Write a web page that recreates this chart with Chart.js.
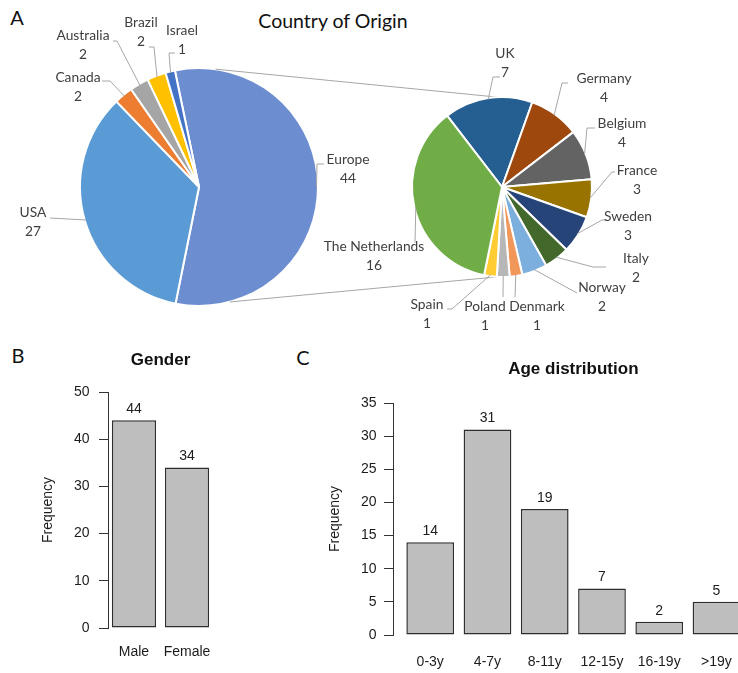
<!DOCTYPE html>
<html>
<head>
<meta charset="utf-8">
<script src="https://cdn.jsdelivr.net/npm/chart.js@4.4.1/dist/chart.umd.min.js"></script>
<style>
  html, body { margin: 0; padding: 0; background: #fff; }
  body { width: 738px; height: 673px; overflow: hidden; position: relative; }
  canvas { position: absolute; }
  .t { position: absolute; transform: translate(-50%, -50%); white-space: nowrap;
       font-family: Lato, "Open Sans", sans-serif; color: #111; line-height: 1; }
</style>
</head>
<body>
<div class="t" style="left:17px;top:17px;font-size:20px">A</div>
<div class="t" style="left:333px;top:21px;font-size:19.5px">Country of Origin</div>
<div class="t" style="left:18px;top:355px;font-size:20px">B</div>
<div class="t" style="left:303px;top:357px;font-size:20px">C</div>

<canvas id="pieMain" width="738" height="340" style="left:0;top:0"></canvas>
<canvas id="pieEurope" width="738" height="340" style="left:0;top:0"></canvas>
<canvas id="gender" width="240" height="343" style="left:0;top:330px"></canvas>
<canvas id="age" width="480" height="343" style="left:280px;top:330px"></canvas>

<script>
// ---- data ----
const originLabels = ['Europe', 'USA', 'Canada', 'Australia', 'Brazil', 'Israel'];
const originCounts = [44, 27, 2, 2, 2, 1];
const originColors = ['#6c8ed0', '#5b9bd5', '#ed7d31', '#a5a5a5', '#ffc000', '#4472c4'];

const europeLabels = ['UK', 'Germany', 'Belgium', 'France', 'Sweden', 'Italy',
                      'Norway', 'Denmark', 'Poland', 'Spain', 'The Netherlands'];
const europeCounts = [7, 4, 4, 3, 3, 2, 2, 1, 1, 1, 16];
const europeColors = ['#255e91', '#9e480e', '#636363', '#997300', '#264478', '#43682b',
                      '#7cafdd', '#f1975a', '#b7b7b7', '#ffcd33', '#70ad47'];

const genderLabels = ['Male', 'Female'];
const genderCounts = [44, 34];

const ageLabels = ['0-3y', '4-7y', '8-11y', '12-15y', '16-19y', '>19y'];
const ageCounts = [14, 31, 19, 7, 2, 5];

// ---- label placement for the pie callouts (offsets from each pie centre) ----
const originLabelLayout = [
  { text: [149, -27],   path: [[118, -23], [125, -23]] },
  { text: [-166, 26],   path: [[-149, 31]] },
  { text: [-121, -109], path: [[-89, -106], [-97, -106]] },
  { text: [-116, -151], path: [[-82, -146], [-86, -146]] },
  { text: [-58, -164],  path: [[-45, -140], [-50, -140]] },
  { text: [-17, -156],  path: [[-30, -134], [-24, -134]] }
];
const europeLabelLayout = [
  { text: [3, -133],   path: [[-9, -110], [-2, -110]] },
  { text: [102, -108], path: [[60, -104], [66, -104]] },
  { text: [120, -63],  path: [[85, -59], [93, -59]] },
  { text: [135, -16],  path: [[110, -15], [113, -15]] },
  { text: [126, 30],   path: [[100, 33], [104, 33]] },
  { text: [134, 72],   path: [[91, 80], [104, 80]] },
  { text: [100, 101],  path: [[75, 106]] },
  { text: [35, 120],   path: [[13, 110]] },
  { text: [-17, 120],  path: [[1, 110]] },
  { text: [-75, 118],  path: [[-50, 122], [-55, 122]] },
  { text: [-128, 60],  path: [[-87, 56]] }
];

// callout labels with leader lines
const pieLabels = {
  id: 'pieLabels',
  afterDatasetsDraw(chart, args, opts) {
    const ctx = chart.ctx;
    const arcs = chart.getDatasetMeta(0).data;
    const names = chart.data.labels;
    const vals = chart.data.datasets[0].data;
    ctx.save();
    arcs.forEach((arc, i) => {
      const { x, y, startAngle, endAngle, outerRadius } =
        arc.getProps(['x', 'y', 'startAngle', 'endAngle', 'outerRadius'], true);
      const mid = (startAngle + endAngle) / 2;
      const lay = opts.layout[i];
      ctx.beginPath();
      ctx.moveTo(x + Math.cos(mid) * (outerRadius - 1.5), y + Math.sin(mid) * (outerRadius - 1.5));
      lay.path.forEach(p => ctx.lineTo(x + p[0], y + p[1]));
      ctx.strokeStyle = '#a6a6a6';
      ctx.lineWidth = 1;
      ctx.stroke();
      ctx.fillStyle = '#404040';
      ctx.font = '13.8px Lato, "Open Sans", sans-serif';
      ctx.textAlign = 'center';
      ctx.textBaseline = 'middle';
      ctx.fillText(names[i], x + lay.text[0], y + lay.text[1]);
      ctx.fillText(String(vals[i]), x + lay.text[0], y + lay.text[1] + opts.lineGap);
    });
    ctx.restore();
  }
};

const pieCommon = (labels, counts, colors, radius, rotation, padding, layout, gap) => ({
  type: 'pie',
  data: { labels, datasets: [{ data: counts, backgroundColor: colors,
                               borderColor: '#ffffff', borderWidth: 2 }] },
  options: {
    responsive: false, animation: false, rotation, radius,
    layout: { padding },
    plugins: { legend: { display: false }, tooltip: { enabled: false },
               pieLabels: { layout, lineGap: gap } }
  },
  plugins: [pieLabels]
});

const mainPie = new Chart(document.getElementById('pieMain'),
  pieCommon(originLabels, originCounts, originColors, 119, -11.7,
            { left: 80, right: 420, top: 68, bottom: 34 }, originLabelLayout, 18.5));

// lines joining the Europe slice to the breakdown pie
const connectorAngles = { from: [8, 165], to: [-3, 183] };
const pieConnectors = {
  id: 'pieConnectors',
  beforeDatasetsDraw(chart) {
    const a = mainPie.getDatasetMeta(0).data[0];
    const b = chart.getDatasetMeta(0).data[0];
    const pt = (el, deg) => {
      const r = el.outerRadius, t = deg * Math.PI / 180;
      return [el.x + r * Math.sin(t), el.y - r * Math.cos(t)];
    };
    const ctx = chart.ctx;
    ctx.save();
    ctx.strokeStyle = '#a6a6a6';
    ctx.lineWidth = 1;
    for (let k = 0; k < 2; k++) {
      const p = pt(a, connectorAngles.from[k]);
      const q = pt(b, connectorAngles.to[k]);
      ctx.beginPath();
      ctx.moveTo(p[0], p[1]);
      ctx.lineTo(q[0], q[1]);
      ctx.stroke();
    }
    ctx.restore();
  }
};

const euCfg = pieCommon(europeLabels, europeCounts, europeColors, 90, -37.6,
                        { left: 412, right: 146, top: 97, bottom: 63 }, europeLabelLayout, 19);
euCfg.plugins.push(pieConnectors);
new Chart(document.getElementById('pieEurope'), euCfg);

// ---- base-graphics style bar charts ----
const textColor = '#1c1c1c';
const sansFont = '"Liberation Sans", Arial, sans-serif';

const barValues = {
  id: 'barValues',
  afterDatasetsDraw(chart) {
    const ctx = chart.ctx;
    const vals = chart.data.datasets[0].data;
    ctx.save();
    ctx.fillStyle = textColor;
    ctx.font = '14px ' + sansFont;
    ctx.textAlign = 'center';
    ctx.textBaseline = 'middle';
    chart.getDatasetMeta(0).data.forEach((bar, i) => {
      ctx.fillText(String(vals[i].y), bar.x, bar.y - 11);
    });
    ctx.restore();
  }
};

const plotTitle = {
  id: 'plotTitle',
  afterDraw(chart, args, opts) {
    const ctx = chart.ctx, ca = chart.chartArea;
    ctx.save();
    ctx.fillStyle = '#111';
    ctx.font = 'bold 17px ' + sansFont;
    ctx.textAlign = 'center';
    ctx.textBaseline = 'middle';
    ctx.fillText(opts.text, (ca.left + ca.right) / 2, opts.y);
    ctx.restore();
  }
};

// bars of width 1 with 0.2 spacing, x range padded by 4% on each side
function barRange(n) {
  const lo = 0.2, hi = 1.2 * n, ext = 0.04 * (hi - lo);
  return [(lo - ext - 0.7) / 1.2, (hi + ext - 0.7) / 1.2];
}

function barChart(id, title, labels, counts, yMax, yStep, L) {
  const [xMin, xMax] = barRange(labels.length);
  return new Chart(document.getElementById(id), {
    type: 'bar',
    data: {
      datasets: [{
        data: counts.map((v, i) => ({ x: i, y: v })),
        backgroundColor: '#bebebe', borderColor: '#2e2e2e', borderWidth: 1.5,
        borderSkipped: false, barPercentage: 1 / 1.2, categoryPercentage: 1
      }]
    },
    options: {
      responsive: false, animation: false,
      layout: { padding: L.padding },
      plugins: { legend: { display: false }, tooltip: { enabled: false },
                 plotTitle: { text: title, y: L.titleY } },
      scales: {
        x: {
          type: 'linear', min: xMin, max: xMax, offset: false,
          afterBuildTicks: s => { s.ticks = labels.map((_, i) => ({ value: i })); },
          afterFit: s => { s.height = L.xHeight; },
          grid: { display: false, drawTicks: false, offset: false }, border: { display: false },
          ticks: { callback: v => labels[v], color: textColor, maxRotation: 0, autoSkip: false,
                   padding: L.xPad, font: { family: sansFont, size: 14 } }
        },
        y: {
          min: 0, max: yMax,
          afterFit: s => { s.width = L.yWidth; },
          grid: { drawOnChartArea: false, drawTicks: true, tickLength: 9, color: '#333' },
          border: { display: true, color: '#333', width: 1 },
          ticks: { stepSize: yStep, color: textColor, padding: L.yPad,
                   font: { family: sansFont, size: 14 } },
          title: { display: true, text: 'Frequency', color: textColor,
                   padding: { top: L.freqPad, bottom: 0 },
                   font: { family: sansFont, size: 14 } }
        }
      }
    },
    plugins: [barValues, plotTitle]
  });
}

barChart('gender', 'Gender', genderLabels, genderCounts, 50, 10, {
  padding: { left: 0, top: 62, right: 27, bottom: 0 },
  yWidth: 108, xHeight: 45, xPad: 15.6, yPad: 9.5, freqPad: 39.6, titleY: 30
});

barChart('age', 'Age distribution', ageLabels, ageCounts, 35, 5, {
  padding: { left: 0, top: 73, right: 6.3, bottom: 0 },
  yWidth: 113, xHeight: 38, xPad: 18.6, yPad: 7.5, freqPad: 46.6, titleY: 39
});
</script>
</body>
</html>
